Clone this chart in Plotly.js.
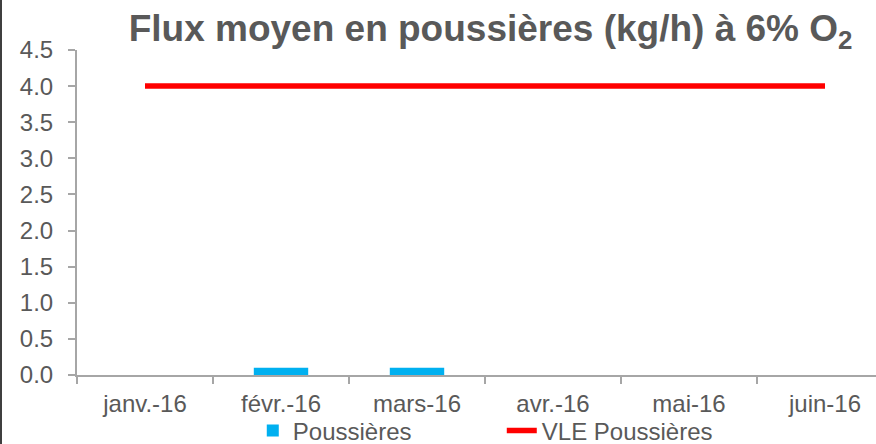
<!DOCTYPE html>
<html>
<head>
<meta charset="utf-8">
<script src="https://cdn.plot.ly/plotly-3.0.1.min.js"></script>
<style>
html, body { margin: 0; padding: 0; overflow: hidden; background: #fff; }
#wrap { width: 874px; height: 444px; border-left: 2px solid #3f3f3f; }
#chart { width: 874px; height: 444px; }
</style>
</head>
<body>
<div id="wrap"><div id="chart"></div></div>
<script>
const months = ["janv.-16", "févr.-16", "mars-16", "avr.-16", "mai-16", "juin-16"];
const poussieres = [0, 0.1, 0.1, 0, 0, 0];
const vlePoussieres = [4, 4, 4, 4, 4, 4];
const yTickVals = [0, 0.5, 1, 1.5, 2, 2.5, 3, 3.5, 4, 4.5];

const gray = "#595959";
const axisGray = "#a6a6a6";
const fontFam = "Liberation Sans, Arial, sans-serif";

const traces = [
  {
    type: "bar",
    name: "Poussières",
    x: months,
    y: poussieres,
    width: 0.4,
    marker: { color: "#00b0f0", line: { width: 0 } }
  },
  {
    type: "scatter",
    mode: "lines",
    name: "VLE Poussières",
    x: months,
    y: vlePoussieres,
    line: { color: "#ff0000", width: 5.5 }
  }
];

const layout = {
  width: 874,
  height: 444,
  margin: { l: 75, r: 0, t: 50, b: 69, pad: 0, autoexpand: false },
  paper_bgcolor: "#ffffff",
  plot_bgcolor: "#ffffff",
  font: { family: fontFam, color: gray, size: 24 },
  title: {
    text: "Flux moyen en poussières (kg/h) à 6% O<sub>2</sub>",
    font: { family: fontFam, size: 37, color: gray, weight: "bold" },
    xref: "container",
    x: 0.559,
    xanchor: "center",
    yref: "container",
    y: 0.936,
    yanchor: "middle"
  },
  xaxis: {
    type: "category",
    range: [-0.5, 5.375],
    showline: true,
    linecolor: axisGray,
    linewidth: 2,
    ticks: "outside",
    tickson: "boundaries",
    ticklen: 7,
    tickwidth: 2,
    tickcolor: axisGray,
    showgrid: false,
    zeroline: false,
    tickfont: { family: fontFam, size: 24, color: gray },
    ticklabelstandoff: 6,
    fixedrange: true
  },
  yaxis: {
    range: [0, 4.5],
    tickvals: yTickVals,
    tickformat: ".1f",
    showline: true,
    linecolor: axisGray,
    linewidth: 2,
    ticks: "outside",
    ticklen: 7,
    tickwidth: 2,
    tickcolor: axisGray,
    showgrid: false,
    zeroline: false,
    tickfont: { family: fontFam, size: 24, color: gray },
    ticklabelstandoff: 10,
    fixedrange: true
  },
  showlegend: true,
  legend: {
    orientation: "h",
    x: 0.22,
    xanchor: "left",
    y: -0.103,
    yanchor: "top",
    font: { family: fontFam, size: 24, color: gray },
    bgcolor: "rgba(0,0,0,0)",
    entrywidth: 204,
    entrywidthmode: "pixels",
    itemwidth: 30,
    traceorder: "normal"
  },
  bargap: 0.6
};

Plotly.newPlot("chart", traces, layout, { displayModeBar: false, staticPlot: true });
</script>
</body>
</html>
